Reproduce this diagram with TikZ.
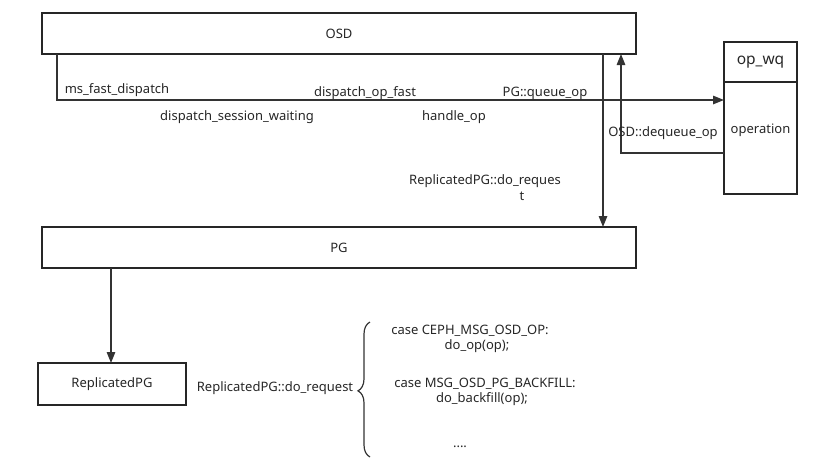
\documentclass[tikz,border=0pt]{standalone}
\usepackage{fontspec}
\setmainfont{Noto Sans}
\usetikzlibrary{arrows.meta,decorations.pathreplacing,calc}
\begin{document}
\begin{tikzpicture}[x=1pt,y=-1pt,
  box/.style={draw=black!85,line width=1.5pt,inner sep=0pt},
  conn/.style={draw=black!80,line width=1.4pt},
  arr/.style={conn,-{Triangle[length=11pt,width=8.5pt]}},
  lbl/.style={font=\fontsize{13}{16}\selectfont,inner sep=0pt,text=black!85}]
\useasboundingbox (0,0) rectangle (831,472);
% boxes
\node[box,minimum width=594pt,minimum height=41pt] (osd) at (339,33.5) {};
\node[lbl] at (osd) {OSD};
\node[box,minimum width=594pt,minimum height=41pt] (pg) at (339,247.5) {};
\node[lbl] at (pg) {PG};
\node[box,minimum width=148pt,minimum height=42pt] (rpg) at (112,384) {};
\node[lbl] at (rpg) {ReplicatedPG};
\node[box,minimum width=73pt,minimum height=40pt] (wqh) at (760.5,62) {};
\node[box,minimum width=73pt,minimum height=112pt] (wqb) at (760.5,138) {};
\node[font=\fontsize{15.5}{18}\selectfont,inner sep=0pt,text=black!85] at (wqh) {op\_wq};
\node[lbl] at (760.5,130) {operation};
% coordinates
\coordinate (a1) at (57,54);
\coordinate (a2) at (57,100);
\coordinate (a3) at (724,100);
\coordinate (b1) at (603,54);
\coordinate (b2) at (603,227);
\coordinate (c1) at (724,153);
\coordinate (c2) at (621,153);
\coordinate (c3) at (621,54);
\coordinate (d1) at (111,268);
\coordinate (d2) at (111,363);
% connectors
\draw[arr] (a1) -- (a2) -- (a3);
\draw[arr] (b1) -- (b2);
\draw[arr] (c1) -- (c2) -- (c3);
\draw[arr] (d1) -- (d2);
% labels
\node[lbl] at (117,90) {ms\_fast\_dispatch};
\node[lbl] at (365,93) {dispatch\_op\_fast};
\node[lbl] at (545,93) {PG::queue\_op};
\node[lbl] at (237,117) {dispatch\_session\_waiting};
\node[lbl] at (454,117) {handle\_op};
\node[lbl] at (663,133) {OSD::dequeue\_op};
\node[lbl] at (485,181) {ReplicatedPG::do\_reques};
\node[lbl] at (522,196) {t};
\node[lbl] (req) at (275,388) {ReplicatedPG::do\_request};
% brace
\draw[conn,line width=1.2pt,decorate,decoration={brace,amplitude=12pt,aspect=0.49}] (370,457) -- (370,322);
\node[lbl] at (470,331) {case CEPH\_MSG\_OSD\_OP:};
\node[lbl] at (477,346) {do\_op(op);};
\node[lbl] at (485,384) {case MSG\_OSD\_PG\_BACKFILL:};
\node[lbl] at (482,399) {do\_backfill(op);};
\node[lbl] at (460,447) {....};
\end{tikzpicture}
\end{document}
